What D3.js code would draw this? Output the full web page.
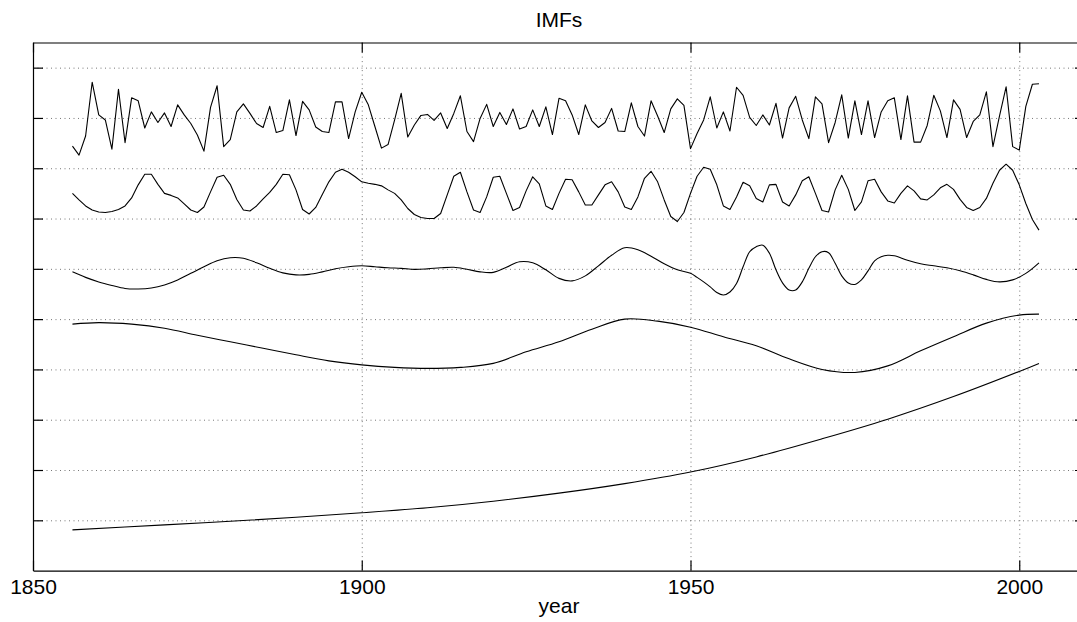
<!DOCTYPE html>
<html>
<head>
<meta charset="utf-8">
<script src="https://cdn.jsdelivr.net/npm/d3@7"></script>
<style>
  body { margin: 0; background: #fff; }
  svg { display: block; }
</style>
</head>
<body>
<svg id="chart" width="1077" height="622"></svg>
<script>
// years of the annual series
const years = d3.range(1856, 2004);

// IMF 1 (annual, high frequency), deviation around its baseline
const imf1 = [
  -0.56,-0.74,-0.36,0.71,0.06,-0.04,-0.62,0.57,-0.49,0.40,
  0.34,-0.20,0.12,-0.09,0.10,-0.17,0.26,0.06,-0.11,-0.34,
  -0.66,0.21,0.64,-0.57,-0.43,0.12,0.28,0.09,-0.11,-0.19,
  0.23,-0.29,-0.25,0.36,-0.35,0.33,0.16,-0.18,-0.27,-0.29,
  0.32,0.32,-0.41,0.12,0.51,0.26,-0.17,-0.60,-0.53,
  -0.04,0.49,-0.38,-0.14,0.05,0.07,-0.05,0.10,-0.21,0.09,
  0.44,-0.27,-0.47,-0.01,0.27,-0.17,0.11,-0.13,0.18,-0.22,
  -0.17,0.16,-0.17,0.22,-0.33,0.39,0.34,0.06,-0.33,0.26,
  -0.06,-0.19,-0.09,0.19,-0.26,-0.27,0.30,-0.17,-0.36,0.34,
  0.04,-0.29,0.18,0.38,0.25,-0.61,-0.31,-0.04,0.42,-0.20,
  0.12,-0.26,0.61,
  0.45,0.01,-0.15,0.06,-0.14,0.29,-0.40,0.20,0.43,-0.04,
  -0.41,0.42,0.28,-0.49,-0.09,0.46,-0.40,0.34,-0.33,0.34,
  -0.39,0.12,0.34,0.40,-0.43,0.44,-0.48,-0.48,-0.15,0.45,
  0.14,-0.39,0.36,0.17,-0.39,-0.07,0.06,0.52,-0.57,0.04,
  0.62,-0.57,-0.64,0.23,0.67,0.68
];

// IMF 2 (annual)
const imf2 = [
  0.00,-0.13,-0.25,-0.33,-0.37,-0.38,-0.36,-0.32,-0.25,-0.09,
  0.17,0.38,0.38,0.18,0.00,-0.04,-0.09,-0.21,-0.33,-0.38,
  -0.27,0.03,0.32,0.36,0.18,-0.12,-0.33,-0.35,-0.25,-0.11,
  0.02,0.18,0.38,0.37,0.07,-0.32,-0.41,-0.28,-0.02,0.23,
  0.42,0.48,0.42,0.33,0.23,0.20,0.18,0.15,0.07,
  0.00,-0.13,-0.30,-0.42,-0.48,-0.50,-0.50,-0.40,-0.03,0.34,
  0.42,0.03,-0.33,-0.38,-0.07,0.32,0.34,0.00,-0.34,-0.28,
  0.05,0.33,0.19,-0.25,-0.32,0.00,0.28,0.27,0.03,-0.23,
  -0.23,-0.03,0.17,0.23,0.03,-0.27,-0.32,-0.07,0.30,0.44,
  0.23,-0.13,-0.46,-0.56,-0.38,0.00,0.34,0.52,0.48,0.17,
  -0.25,-0.32,-0.07,
  0.22,0.15,-0.10,-0.17,0.17,0.18,-0.17,-0.25,-0.03,0.25,
  0.33,0.00,-0.34,-0.37,0.07,0.36,0.08,-0.34,-0.17,0.25,
  0.28,0.03,-0.15,-0.19,0.00,0.15,0.05,-0.11,-0.13,-0.03,
  0.11,0.18,0.08,-0.12,-0.28,-0.34,-0.28,-0.10,0.20,0.46,
  0.58,0.46,0.17,-0.20,-0.52,-0.73
];

// IMF 3 (smooth, read at these years)
const imf3Years = [
  1856,1858,1860,1862,1864,1866,1868,1870,1872,1874,1876,1878,1880,1882,1884,1886,
  1888,1890,1892,1894,1896,1898,1900,1902,1904,1906,1908,1910,1912,1914,1916,1918,
  1920,1922,1924,1926,1928,1930,1932,1934,1936,1938,1940,1942,1944,1946,1948,
  1950,1951,1952,1953,1954,1955,1956,1957,1958,1959,1960,1961,1962,1963,1964,1965,
  1966,1967,1968,1969,1970,1971,1972,1973,1974,1975,1976,1977,1978,1979,1980,1981,
  1983,1985,1987,1989,1991,1993,1995,1997,1999,2001,2003
];
const imf3 = [
  -0.06,-0.17,-0.26,-0.33,-0.39,-0.40,-0.38,-0.32,-0.22,-0.09,0.04,0.16,0.22,0.21,0.12,0.01,
  -0.08,-0.12,-0.11,-0.06,0.00,0.04,0.06,0.04,0.02,0.01,-0.01,0.00,0.02,0.03,-0.01,-0.06,
  -0.07,0.03,0.14,0.12,-0.02,-0.19,-0.24,-0.14,0.06,0.27,0.42,0.38,0.25,0.10,-0.02,
  -0.09,-0.17,-0.26,-0.36,-0.47,-0.52,-0.46,-0.29,0.04,0.34,0.44,0.47,0.31,-0.02,-0.28,-0.42,
  -0.42,-0.26,0.01,0.24,0.34,0.32,0.11,-0.14,-0.28,-0.31,-0.22,-0.04,0.16,0.24,0.27,0.26,
  0.17,0.10,0.06,0.02,-0.04,-0.12,-0.21,-0.26,-0.22,-0.09,0.12
];

// IMF 4 (smooth)
const imf4Years = [
  1856,1860,1865,1870,1875,1880,1885,1890,1895,1900,1905,1910,1915,1920,1925,1930,
  1935,1940,1945,1950,1955,1960,1965,1970,1975,1980,1985,1990,1995,2000,2003
];
const imf4 = [
  0.40,0.43,0.40,0.32,0.18,0.05,-0.08,-0.21,-0.33,-0.41,-0.46,-0.48,-0.46,-0.38,-0.15,0.05,
  0.30,0.50,0.46,0.34,0.15,-0.03,-0.29,-0.50,-0.56,-0.43,-0.13,0.15,0.42,0.58,0.60
];

// residual trend
const trendYears = [1856,1870,1880,1890,1900,1910,1920,1930,1940,1950,1960,1970,1980,1990,2000,2003];
const trend = [-0.19,-0.09,-0.02,0.06,0.15,0.25,0.38,0.54,0.73,0.96,1.26,1.62,2.01,2.46,2.96,3.12];

// stacking offsets, one per component
const offsets = [8, 6.5, 5, 3.5, 0];

const xTicks = [1850, 1900, 1950, 2000];
const yTicks = [0, 1, 2, 3, 4, 5, 6, 7, 8, 9];

const font = '"Liberation Sans", Arial, Helvetica, sans-serif';
const box = { x0: 33, x1: 1085, y0: 42.5, y1: 570.6 };

const svg = d3.select('#chart');

const x = d3.scaleLinear().domain([1850, 2010]).range([box.x0, box.x1]);
const y = d3.scaleLinear().domain([-1, 9.5]).range([box.y1, box.y0]);

// dotted grid
const gridX = svg.append('g')
  .attr('transform', `translate(0,${box.y1})`)
  .call(d3.axisBottom(x).tickValues(xTicks.slice(1)).tickSize(-(box.y1 - box.y0)).tickFormat(''));
const gridY = svg.append('g')
  .attr('transform', `translate(${box.x0},0)`)
  .call(d3.axisLeft(y).tickValues(yTicks).tickSize(-(box.x1 - box.x0)).tickFormat(''));
[gridX, gridY].forEach(g => {
  g.select('.domain').remove();
  g.selectAll('line').attr('stroke', '#777').attr('stroke-width', 1).attr('stroke-dasharray', '1,3.5');
});

// series
const series = [
  { xs: years, ys: imf1, curve: d3.curveLinear },
  { xs: years, ys: imf2, curve: d3.curveLinear },
  { xs: imf3Years, ys: imf3, curve: d3.curveCatmullRom },
  { xs: imf4Years, ys: imf4, curve: d3.curveCatmullRom },
  { xs: trendYears, ys: trend, curve: d3.curveCatmullRom }
];

series.forEach((s, i) => {
  const line = d3.line()
    .x(d => x(d[0]))
    .y(d => y(d[1] + offsets[i]))
    .curve(s.curve);
  svg.append('path')
    .datum(s.xs.map((yr, k) => [yr, s.ys[k]]))
    .attr('fill', 'none')
    .attr('stroke', '#000')
    .attr('stroke-width', 1.1)
    .attr('stroke-linejoin', 'round')
    .attr('d', line);
});

// axes, ticks pointing inward
const axBottom = svg.append('g')
  .attr('transform', `translate(0,${box.y1})`)
  .call(d3.axisBottom(x).tickValues(xTicks).tickSizeInner(-10).tickSizeOuter(0)
    .tickPadding(8.5).tickFormat(d3.format('d')));
const axTop = svg.append('g')
  .attr('transform', `translate(0,${box.y0})`)
  .call(d3.axisTop(x).tickValues(xTicks).tickSizeInner(-10).tickSizeOuter(0).tickFormat(''));
const axLeft = svg.append('g')
  .attr('transform', `translate(${box.x0},0)`)
  .call(d3.axisLeft(y).tickValues(yTicks).tickSizeInner(-10).tickSizeOuter(0).tickFormat(''));
const axRight = svg.append('g')
  .attr('transform', `translate(${box.x1},0)`)
  .call(d3.axisRight(y).tickValues(yTicks).tickSizeInner(-10).tickSizeOuter(0).tickFormat(''));

[axBottom, axTop, axLeft, axRight].forEach(g => {
  g.attr('font-family', font).attr('font-size', 21);
  g.selectAll('path, line').attr('stroke', '#000').attr('stroke-width', 1.2);
});
axBottom.selectAll('text').attr('fill', '#000');

// title and axis label
svg.append('text')
  .attr('x', (box.x0 + box.x1) / 2)
  .attr('y', 27)
  .attr('text-anchor', 'middle')
  .attr('font-family', font)
  .attr('font-size', 21)
  .text('IMFs');

svg.append('text')
  .attr('x', (box.x0 + box.x1) / 2)
  .attr('y', 613)
  .attr('text-anchor', 'middle')
  .attr('font-family', font)
  .attr('font-size', 21)
  .text('year');
</script>
</body>
</html>
